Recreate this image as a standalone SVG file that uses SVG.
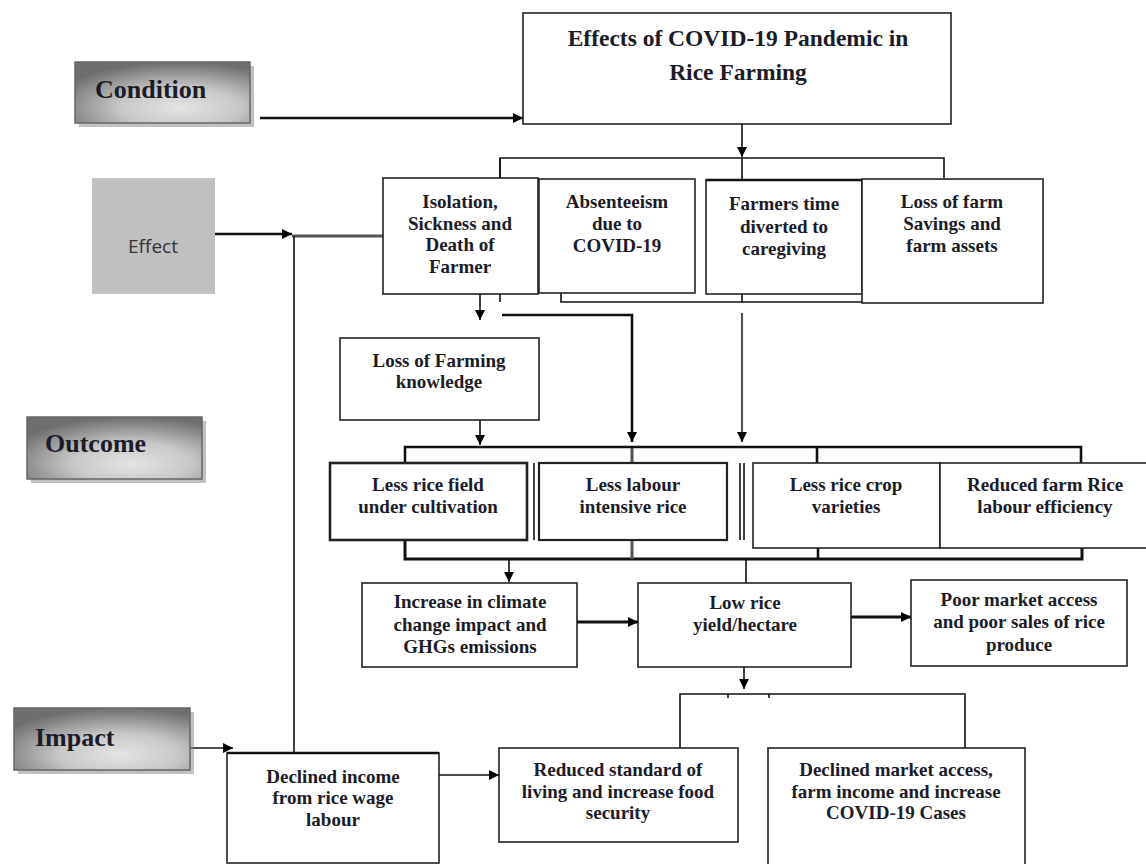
<svg xmlns="http://www.w3.org/2000/svg" width="1146" height="864" viewBox="0 0 1146 864">
<defs>
<radialGradient id="gr" cx="0.6" cy="0.75" r="0.75">
<stop offset="0" stop-color="#e4e4e4"/>
<stop offset="0.45" stop-color="#c8c8c8"/>
<stop offset="1" stop-color="#6e6e6e"/>
</radialGradient>
<marker id="ah" viewBox="0 0 10 10" refX="10" refY="5" markerWidth="11" markerHeight="10" markerUnits="userSpaceOnUse" orient="auto">
<path d="M0,0 L10,5 L0,10 z" fill="#000"/>
</marker>
</defs>
<style>
.box{fill:#fff;stroke:#222;stroke-width:1.6}
.thick{stroke-width:2.6}
.lbl{fill:url(#gr);stroke:#666;stroke-width:1.5}
.sh{fill:#8c8c8c;opacity:0.55}
.t{font-family:"Liberation Serif","Times New Roman",serif;font-weight:bold;font-size:19px;fill:#1c1c28;text-anchor:middle}
.big{font-family:"Liberation Serif","Times New Roman",serif;font-weight:bold;font-size:26px;fill:#1c1c28}
.c{fill:none;stroke:#111;stroke-width:1.6}
.c2{fill:none;stroke:#111;stroke-width:2.6}
.g{fill:none;stroke:#555;stroke-width:3}
.a{marker-end:url(#ah)}
</style>
<rect width="1146" height="864" fill="#fff"/>
<g id="connectors">
<path class="c2 a" d="M260,118 H523"/>
<path class="c a" d="M742,124 V157"/>
<path class="c" d="M500,178 V158 H944 V178"/>
<path class="c" d="M500,158 V302"/>
<path class="c" d="M742,158 V180"/>
<path class="c2 a" d="M215,234 H292"/>
<path class="g" d="M292,236 H383"/>
<path class="c" d="M294,236 V753"/>
<path class="c a" d="M480,294 V320"/>
<path class="c" d="M561,292 V302 H862"/>
<path class="c" d="M742,294 V302"/>
<path class="c2 a" d="M502,315 H632 V442" stroke="#333"/>
<path class="g" d="M632,447 V463"/>
<path class="g a" d="M742,313 V442" style="stroke-width:2.2"/>
<path class="c a" d="M480,420 V445"/>
<path class="c2" d="M405,463 V447 H1081 V463"/>
<path class="c2" d="M817,447 V463"/>
<path class="c" d="M534,463 V540"/>
<path class="c" d="M740,463 V540"/>
<path class="c" d="M744,463 V540"/>
<path class="c2" d="M405,540 V559 H1082 V548" style="stroke-width:3"/>
<path class="g" d="M632,540 V559"/>
<path class="c2" d="M818,548 V559"/>
<path class="c a" d="M509,559 V582"/>
<path class="c" d="M746,559 V583"/>
<path class="c2 a" d="M577,622 H638" style="stroke-width:3"/>
<path class="c2 a" d="M851,617 H911" style="stroke-width:3"/>
<path class="c a" d="M744,667 V689"/>
<path class="c" d="M680,748 V694 H965 V748"/>
<path class="c" d="M728,694 V698"/>
<path class="c" d="M769,694 V698"/>
<path class="c a" d="M189,748 H233"/>
<path class="c a" d="M439,775 H499"/>
</g>
<g id="condition">
<rect class="sh" x="79" y="66" width="175" height="61"/>
<rect class="lbl" x="75" y="62" width="175" height="61"/>
<text class="big" x="95" y="98">Condition</text>
</g>
<g id="effect">
<rect x="92" y="178" width="123" height="116" fill="#c0c0c0"/>
<text x="153" y="253" font-family="'Open Sans','Liberation Sans',sans-serif" font-size="19" fill="#333" text-anchor="middle">Effect</text>
</g>
<g id="outcome">
<rect class="sh" x="31" y="421" width="175" height="62"/>
<rect class="lbl" x="27" y="417" width="175" height="62"/>
<text class="big" x="45" y="452">Outcome</text>
</g>
<g id="impact">
<rect class="sh" x="18" y="712" width="176" height="62"/>
<rect class="lbl" x="14" y="708" width="176" height="62"/>
<text class="big" x="35" y="746">Impact</text>
</g>
<g id="title">
<rect class="box" x="523" y="13" width="428" height="111"/>
<text class="t" x="738" y="46" style="font-size:23.5px">Effects of COVID-19 Pandemic in</text>
<text class="t" x="738" y="80" style="font-size:23.5px">Rice Farming</text>
</g>
<g id="isolation">
<rect class="box" x="383" y="178" width="155" height="116"/>
<text class="t" x="460" y="208">Isolation,</text>
<text class="t" x="460" y="230">Sickness and</text>
<text class="t" x="460" y="251">Death of</text>
<text class="t" x="460" y="273">Farmer</text>
</g>
<g id="absenteeism">
<rect class="box" x="539" y="179" width="156" height="114"/>
<text class="t" x="617" y="208">Absenteeism</text>
<text class="t" x="617" y="230">due to</text>
<text class="t" x="617" y="252">COVID-19</text>
</g>
<g id="farmers-time">
<rect class="box" x="706" y="180" width="156" height="114"/>
<path class="c2" d="M706,180 H862"/>
<text class="t" x="784" y="210">Farmers time</text>
<text class="t" x="784" y="233">diverted to</text>
<text class="t" x="784" y="255">caregiving</text>
</g>
<g id="loss-savings">
<rect class="box" x="862" y="179" width="181" height="124"/>
<text class="t" x="952" y="208">Loss of farm</text>
<text class="t" x="952" y="230">Savings and</text>
<text class="t" x="952" y="252">farm assets</text>
</g>
<g id="loss-knowledge">
<rect class="box" x="340" y="338" width="199" height="82"/>
<text class="t" x="439" y="367">Loss of Farming</text>
<text class="t" x="439" y="388">knowledge</text>
</g>
<g id="less-field">
<rect class="box thick" x="330" y="463" width="197" height="77"/>
<text class="t" x="428" y="491">Less rice field</text>
<text class="t" x="428" y="513">under cultivation</text>
</g>
<g id="less-labour">
<rect class="box" x="539" y="463" width="188" height="77" style="stroke-width:2.2"/>
<text class="t" x="633" y="491">Less labour</text>
<text class="t" x="633" y="513">intensive rice</text>
</g>
<g id="less-varieties">
<rect class="box" x="753" y="463" width="187" height="85"/>
<text class="t" x="846" y="491">Less rice crop</text>
<text class="t" x="846" y="513">varieties</text>
</g>
<g id="reduced-efficiency">
<rect class="box" x="940" y="463" width="210" height="85"/>
<text class="t" x="1045" y="491">Reduced farm Rice</text>
<text class="t" x="1045" y="513">labour efficiency</text>
</g>
<g id="climate">
<rect class="box" x="362" y="583" width="215" height="84"/>
<text class="t" x="470" y="608">Increase in climate</text>
<text class="t" x="470" y="631">change impact and</text>
<text class="t" x="470" y="653">GHGs emissions</text>
</g>
<g id="low-yield">
<rect class="box" x="638" y="583" width="213" height="84"/>
<text class="t" x="745" y="609">Low rice</text>
<text class="t" x="745" y="631">yield/hectare</text>
</g>
<g id="poor-market">
<rect class="box" x="911" y="580" width="216" height="86"/>
<text class="t" x="1019" y="606">Poor market access</text>
<text class="t" x="1019" y="628">and poor sales of rice</text>
<text class="t" x="1019" y="651">produce</text>
</g>
<g id="declined-income">
<rect class="box" x="227" y="753" width="212" height="110"/>
<path class="c2" d="M227,753 H439"/>
<text class="t" x="333" y="783">Declined income</text>
<text class="t" x="333" y="804">from rice wage</text>
<text class="t" x="333" y="826">labour</text>
</g>
<g id="reduced-standard">
<rect class="box" x="499" y="748" width="239" height="94"/>
<text class="t" x="618" y="776">Reduced standard of</text>
<text class="t" x="618" y="798">living and increase food</text>
<text class="t" x="618" y="819">security</text>
</g>
<g id="declined-market">
<rect class="box" x="768" y="748" width="257" height="130"/>
<text class="t" x="896" y="776">Declined market access,</text>
<text class="t" x="896" y="798">farm income and increase</text>
<text class="t" x="896" y="819">COVID-19 Cases</text>
</g>
</svg>
